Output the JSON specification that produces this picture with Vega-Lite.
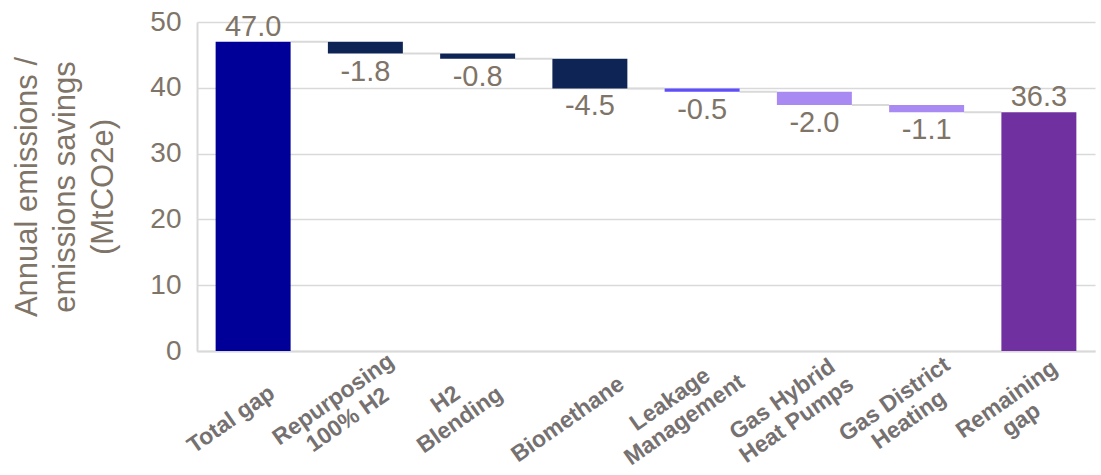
{
  "$schema": "https://vega.github.io/schema/vega-lite/v6.json",
  "autosize": {"type": "none"},
  "width": 898,
  "height": 329,
  "padding": {"left": 197, "top": 22, "right": 6, "bottom": 124},
  "background": "white",
  "config": {
    "view": {"stroke": null},
    "font": "Liberation Sans"
  },
  "data": {
    "values": [
      {"cat": "Total gap", "next": "Repurposing|100% H2", "start": 0, "end": 47.0, "value": 47.0, "label": "47.0", "kind": "total"},
      {"cat": "Repurposing|100% H2", "next": "H2|Blending", "start": 47.0, "end": 45.2, "value": -1.8, "label": "-1.8", "kind": "hydrogen"},
      {"cat": "H2|Blending", "next": "Biomethane", "start": 45.2, "end": 44.4, "value": -0.8, "label": "-0.8", "kind": "hydrogen"},
      {"cat": "Biomethane", "next": "Leakage|Management", "start": 44.4, "end": 39.9, "value": -4.5, "label": "-4.5", "kind": "hydrogen"},
      {"cat": "Leakage|Management", "next": "Gas Hybrid|Heat Pumps", "start": 39.9, "end": 39.4, "value": -0.5, "label": "-0.5", "kind": "leakage"},
      {"cat": "Gas Hybrid|Heat Pumps", "next": "Gas District|Heating", "start": 39.4, "end": 37.4, "value": -2.0, "label": "-2.0", "kind": "heat"},
      {"cat": "Gas District|Heating", "next": "Remaining|gap", "start": 37.4, "end": 36.3, "value": -1.1, "label": "-1.1", "kind": "heat"},
      {"cat": "Remaining|gap", "next": null, "start": 0, "end": 36.3, "value": 36.3, "label": "36.3", "kind": "remaining"}
    ]
  },
  "layer": [
    {
      "transform": [{"filter": "datum.next != null"}],
      "mark": {"type": "rule", "color": "#d9d9d9", "strokeWidth": 2},
      "encoding": {
        "x": {"field": "cat", "type": "nominal", "bandPosition": 1, "sort": null,
              "scale": {"domain": ["Total gap", "Repurposing|100% H2", "H2|Blending", "Biomethane", "Leakage|Management", "Gas Hybrid|Heat Pumps", "Gas District|Heating", "Remaining|gap"], "paddingInner": 0.332, "paddingOuter": 0.166}},
        "x2": {"field": "next", "bandPosition": 0},
        "y": {"field": "end", "type": "quantitative"}
      }
    },
    {
      "mark": {"type": "bar"},
      "encoding": {
        "x": {"field": "cat", "type": "nominal", "sort": null,
              "scale": {"domain": ["Total gap", "Repurposing|100% H2", "H2|Blending", "Biomethane", "Leakage|Management", "Gas Hybrid|Heat Pumps", "Gas District|Heating", "Remaining|gap"], "paddingInner": 0.332, "paddingOuter": 0.166},
              "axis": {
                "title": null,
                "labelExpr": "split(datum.label, '|')",
                "labelAngle": -35,
                "labelAlign": "center",
                "labelBaseline": "middle",
                "labelPadding": {"condition": {"test": "indexof(datum.label, '|') >= 0", "value": 48}, "value": 68},
                "labelOffset": {"condition": {"test": "indexof(datum.label, '|') >= 0", "value": -32}, "value": -22},
                "labelFontSize": 23,
                "labelFontWeight": "bold",
                "labelColor": "#767171",
                "labelLineHeight": 25,
                "ticks": false,
                "domainColor": "#d9d9d9",
                "domainWidth": 2,
                "labelOverlap": false,
                "labelBound": false,
                "labelFlush": false
              }},
        "y": {"field": "start", "type": "quantitative",
              "scale": {"domain": [0, 50], "nice": false},
              "axis": {
                "values": [0, 10, 20, 30, 40, 50],
                "title": ["Annual emissions /", "emissions savings", "(MtCO2e)"],
                "titleFontSize": 31,
                "titleFontWeight": "normal",
                "titleColor": "#7f7468",
                "titleLineHeight": 38,
                "titlePadding": 30,
                "labelFontSize": 28,
                "labelColor": "#7f7468",
                "labelPadding": 16,
                "ticks": false,
                "grid": true,
                "gridColor": "#d9d9d9",
                "gridWidth": 1.5,
                "domainColor": "#d9d9d9",
                "domainWidth": 2
              }},
        "y2": {"field": "end"},
        "color": {"field": "kind", "type": "nominal", "legend": null,
                  "scale": {"domain": ["total", "hydrogen", "leakage", "heat", "remaining"],
                            "range": ["#000099", "#0E2454", "#5F4EFA", "#A98AF3", "#7030A0"]}}
      }
    },
    {
      "transform": [{"filter": "datum.value > 0"}],
      "mark": {"type": "text", "baseline": "bottom", "dy": 0, "fontSize": 29, "color": "#7f7468"},
      "encoding": {
        "x": {"field": "cat", "type": "nominal", "sort": null,
              "scale": {"domain": ["Total gap", "Repurposing|100% H2", "H2|Blending", "Biomethane", "Leakage|Management", "Gas Hybrid|Heat Pumps", "Gas District|Heating", "Remaining|gap"], "paddingInner": 0.332, "paddingOuter": 0.166}},
        "y": {"field": "end", "type": "quantitative"},
        "text": {"field": "label", "type": "nominal"}
      }
    },
    {
      "transform": [{"filter": "datum.value < 0"}],
      "mark": {"type": "text", "baseline": "top", "dy": 4, "fontSize": 29, "color": "#7f7468"},
      "encoding": {
        "x": {"field": "cat", "type": "nominal", "sort": null,
              "scale": {"domain": ["Total gap", "Repurposing|100% H2", "H2|Blending", "Biomethane", "Leakage|Management", "Gas Hybrid|Heat Pumps", "Gas District|Heating", "Remaining|gap"], "paddingInner": 0.332, "paddingOuter": 0.166}},
        "y": {"field": "end", "type": "quantitative"},
        "text": {"field": "label", "type": "nominal"}
      }
    }
  ]
}
